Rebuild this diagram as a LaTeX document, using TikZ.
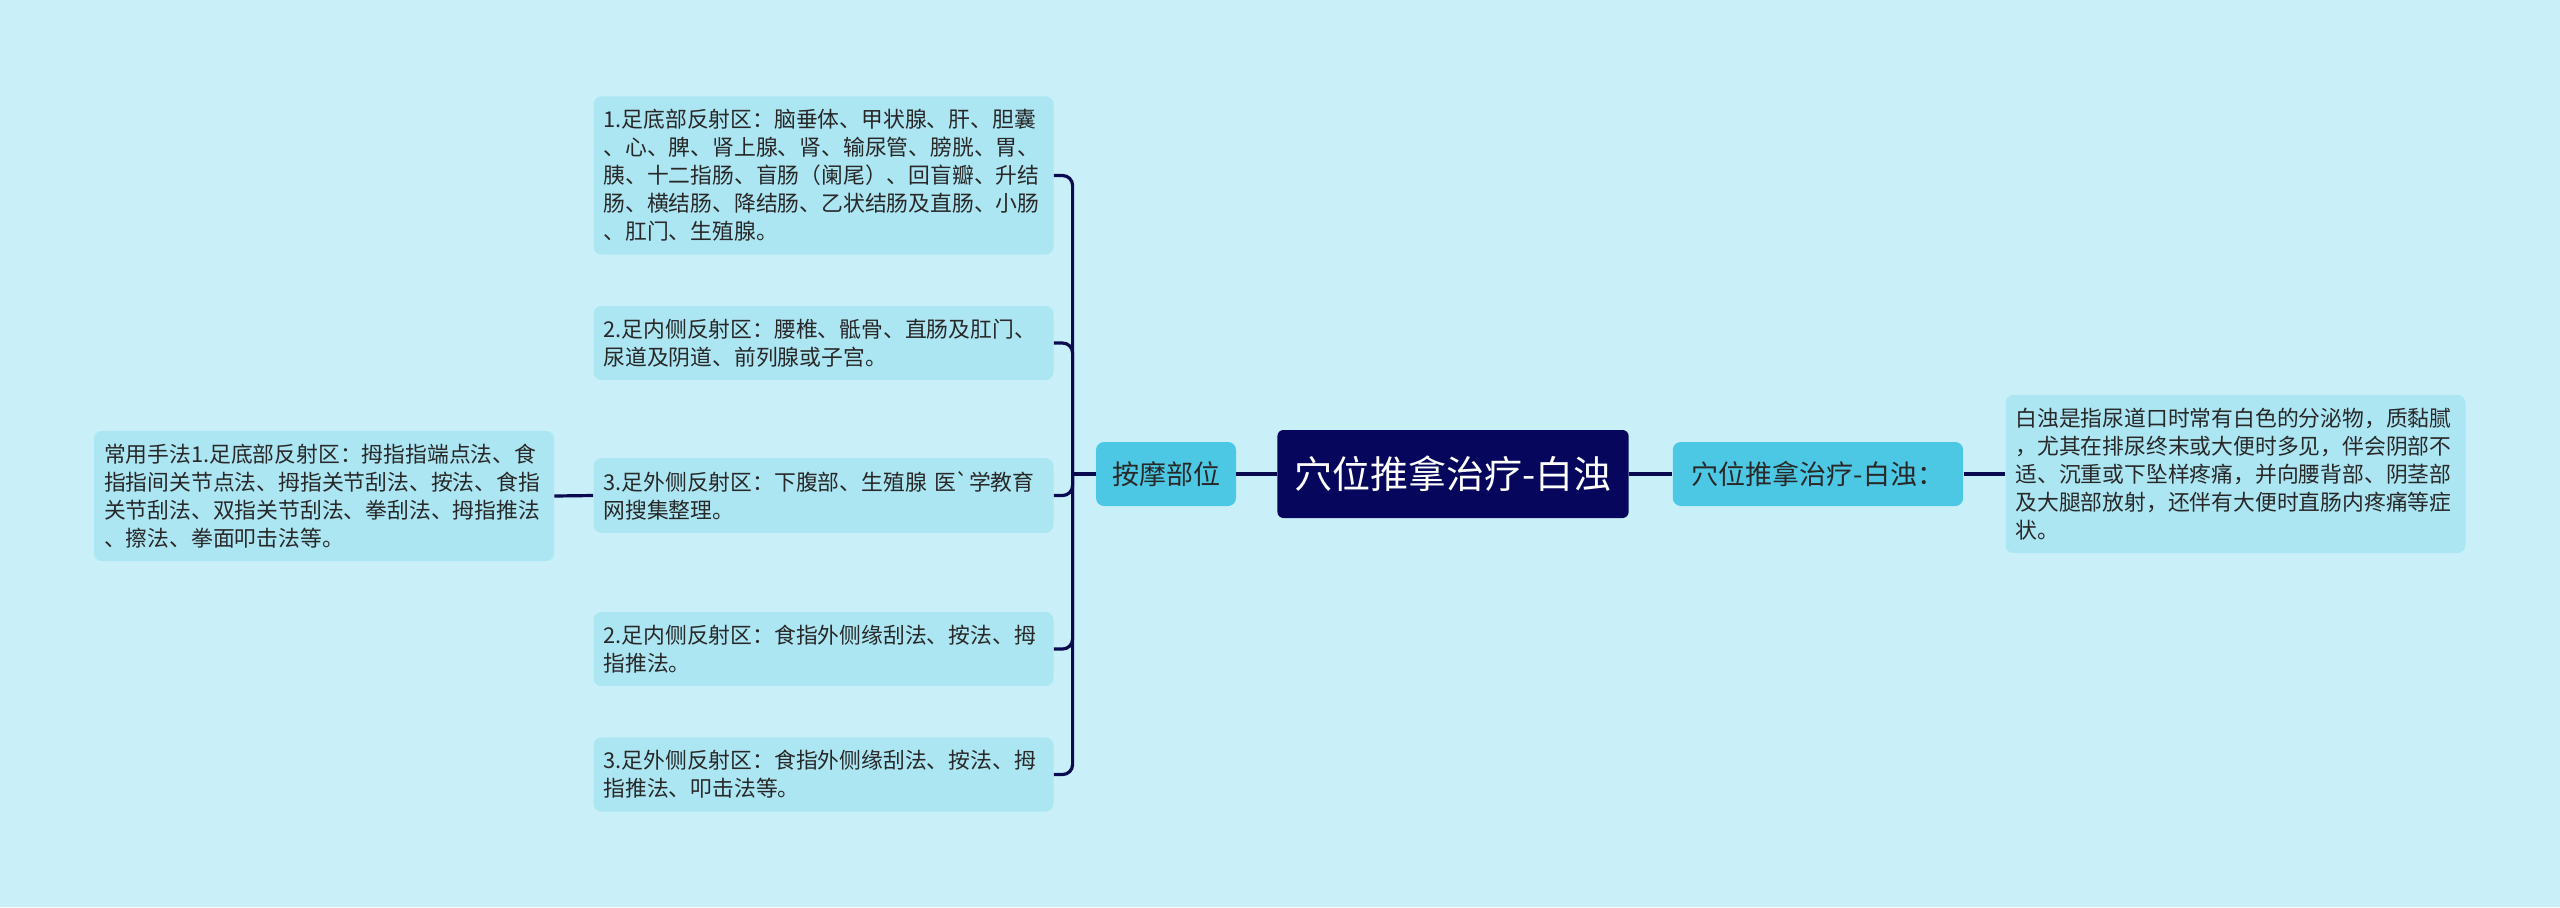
\documentclass[tikz,border=0pt]{standalone}
\usepackage{fontspec}
\newfontfamily\cjk{Noto Sans CJK SC}
\usetikzlibrary{positioning}
\definecolor{bgcol}{RGB}{201,240,248}
\definecolor{leafcol}{RGB}{173,230,243}
\definecolor{hubcol}{RGB}{76,200,228}
\definecolor{rootcol}{RGB}{6,6,92}
\definecolor{linecol}{RGB}{10,10,80}
\definecolor{txtcol}{RGB}{40,40,40}

\begin{document}
\begin{tikzpicture}[x=0.5pt, y=-0.5pt,
  leaf/.style={fill=leafcol, rounded corners=4pt, text=txtcol, text width=220pt,
    align=left, inner xsep=5pt, inner ysep=6.5pt, font=\cjk\fontsize{10.9}{14}\selectfont},
  hub/.style={fill=hubcol, rounded corners=4pt, text=txtcol, inner xsep=8pt,
    minimum height=32pt, font=\cjk\fontsize{13.5}{16}\selectfont},
  rootbox/.style={fill=rootcol, rounded corners=3pt, text=white, inner xsep=8.5pt,
    minimum height=44pt, font=\cjk\fontsize{19}{22}\selectfont},
  conn/.style={draw=linecol, line width=1.6pt}
]
  \fill[bgcol] (0,0) rectangle (2560,907);
  \useasboundingbox (0,0) rectangle (2560,907);

  % centre and the two main branches
  \node[rootbox] (root) at (1453,474) {穴位推拿治疗-白浊};
  \node[hub] (zone) at (1166,474) {按摩部位};
  \node[hub, inner xsep=9.5pt] (title) at (1818,474) {穴位推拿治疗-白浊：};

  % right side
  \node[leaf] (desc) at (2235.5,474) {白浊是指尿道口时常有白色的分泌物，质黏腻\\
    ，尤其在排尿终末或大便时多见，伴会阴部不\\
    适、沉重或下坠样疼痛，并向腰背部、阴茎部\\
    及大腿部放射，还伴有大便时直肠内疼痛等症\\
    状。};

  % left side: reflex zones
  \node[leaf] (z1) at (823.5,175.5) {1.足底部反射区：脑垂体、甲状腺、肝、胆囊\\
    、心、脾、肾上腺、肾、输尿管、膀胱、胃、\\
    胰、十二指肠、盲肠（阑尾）、回盲瓣、升结\\
    肠、横结肠、降结肠、乙状结肠及直肠、小肠\\
    、肛门、生殖腺。};
  \node[leaf] (z2) at (823.5,343) {2.足内侧反射区：腰椎、骶骨、直肠及肛门、\\
    尿道及阴道、前列腺或子宫。};
  \node[leaf] (z3) at (823.5,495.5) {3.足外侧反射区：下腹部、生殖腺 医`学教育\\
    网搜集整理。};
  \node[leaf] (z4) at (823.5,649) {2.足内侧反射区：食指外侧缘刮法、按法、拇\\
    指推法。};
  \node[leaf] (z5) at (823.5,774.5) {3.足外侧反射区：食指外侧缘刮法、按法、拇\\
    指推法、叩击法等。};

  \node[leaf] (method) at (324,496) {常用手法1.足底部反射区：拇指指端点法、食\\
    指指间关节点法、拇指关节刮法、按法、食指\\
    关节刮法、双指关节刮法、拳刮法、拇指推法\\
    、擦法、拳面叩击法等。};

  % connectors
  \coordinate (brk) at ([xshift=-11.5pt]zone.west);
  \draw[conn] (root.west) -- (zone.east);
  \draw[conn] (root.east) -- (title.west);
  \draw[conn] (title.east) -- (desc.west);
  \draw[conn] (zone.west) -- (brk);
  \foreach \i in {1,...,5} {
    \draw[conn, rounded corners=5pt] (brk) |- (z\i.east);
  }
  \draw[conn] (z3.west) -- (method.east);
\end{tikzpicture}
\end{document}
